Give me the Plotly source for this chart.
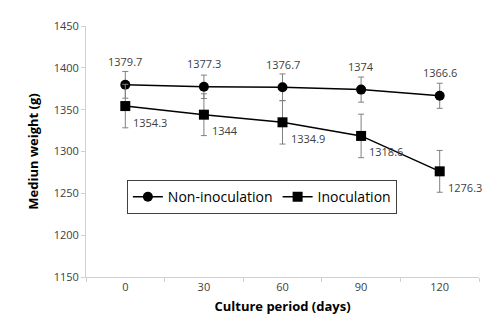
import plotly.graph_objects as go

days = ["0", "30", "60", "90", "120"]
non_inoc = [1379.7, 1377.3, 1376.7, 1374.0, 1366.6]
non_inoc_err = [16, 14, 16, 15, 15]
inoc = [1354.3, 1344.0, 1334.9, 1318.6, 1276.3]
inoc_err = [26, 25, 26, 26, 25]
y_ticks = [1150, 1200, 1250, 1300, 1350, 1400, 1450]

FONT = "Open Sans"
fig = go.Figure()
fig.add_trace(go.Scatter(
    x=days, y=non_inoc, name="Non-inoculation", mode="lines+markers",
    line=dict(color="black", width=1.5),
    marker=dict(symbol="circle", size=10, color="black"),
    error_y=dict(type="data", array=non_inoc_err, color="#808080", thickness=1, width=3),
))
fig.add_trace(go.Scatter(
    x=days, y=inoc, name="Inoculation", mode="lines+markers",
    line=dict(color="black", width=1.5),
    marker=dict(symbol="square", size=10, color="black"),
    error_y=dict(type="data", array=inoc_err, color="#808080", thickness=1, width=3),
))

ann = []
for i, v in enumerate(non_inoc):
    ann.append(dict(x=i, y=v, text=f"{v:g}", showarrow=False, yshift=23,
                    font=dict(size=11, color="#404040", family=FONT)))
for i, v in enumerate(inoc):
    ann.append(dict(x=i, y=v, text=f"{v:g}", showarrow=False, yshift=-16,
                    xanchor="left", xshift=6,
                    font=dict(size=11, color="#404040", family=FONT)))

fig.update_layout(
    width=502, height=336,
    margin=dict(l=86, r=23, t=26, b=59),
    paper_bgcolor="white", plot_bgcolor="white",
    font=dict(family=FONT, color="#404040"),
    annotations=ann,
    showlegend=True,
    legend=dict(orientation="h", x=0.104, y=0.386, xanchor="left", yanchor="top",
                bordercolor="#404040", borderwidth=1, bgcolor="white",
                font=dict(size=14, color="black", family=FONT),
                itemwidth=30),
    xaxis=dict(type="category", range=[-0.5, 4.5], showline=True, linecolor="#d0d0d0",
               linewidth=1, ticks="outside", tickson="boundaries", ticklen=4,
               tickcolor="#d0d0d0", showgrid=False,
               tickfont=dict(size=11, color="#404040"),
               title=dict(text="<b>Culture period (days)</b>", standoff=8,
                          font=dict(size=13, color="black"))),
    yaxis=dict(range=[1150, 1450], tickvals=y_ticks, showline=True, linecolor="#d0d0d0",
               linewidth=1, ticks="outside", ticklen=4, tickcolor="#d0d0d0",
               showgrid=False, zeroline=False,
               tickfont=dict(size=11, color="#404040"),
               title=dict(text="<b>Mediun weight (g)</b>", standoff=12,
                          font=dict(size=13, color="black"))),
)
fig.write_html("out.html")
